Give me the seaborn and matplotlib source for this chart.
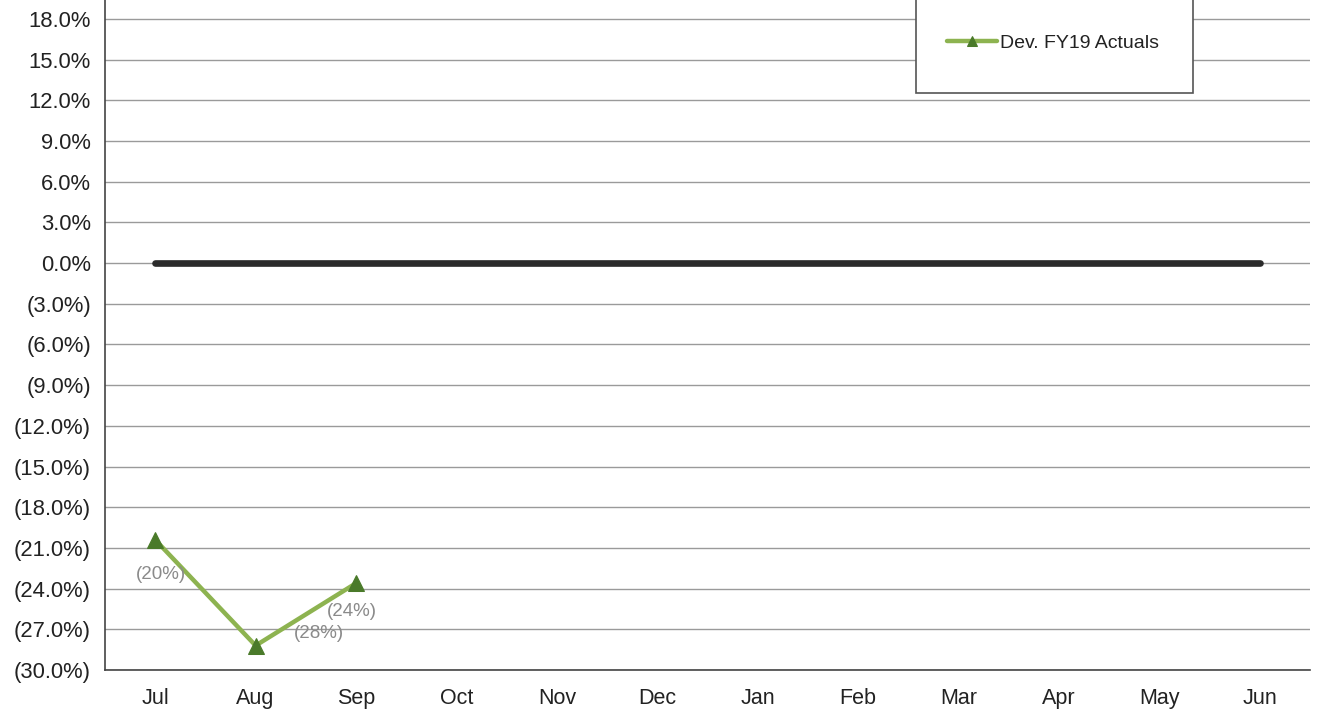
import matplotlib
matplotlib.use("Agg")
import matplotlib.pyplot as plt
import matplotlib.patches as mpatches
import seaborn as sns
import pandas as pd
import numpy as np

months = ["Jul", "Aug", "Sep", "Oct", "Nov", "Dec", "Jan", "Feb", "Mar", "Apr", "May", "Jun"]
target_values = [0.0] * 12
actual_months = ["Jul", "Aug", "Sep"]
actual_values = [-20.4, -28.2, -23.6]
actual_labels = ["(20%)", "(28%)", "(24%)"]
y_ticks = [18, 15, 12, 9, 6, 3, 0, -3, -6, -9, -12, -15, -18, -21, -24, -27, -30]

sns.set_theme(style="white")
plt.rcParams['font.family'] = ['Liberation Sans', 'DejaVu Sans']

fig = plt.figure(figsize=(13.22, 7.13), dpi=100)
ax = fig.add_axes([105/1322, 43/713, (1310-105)/1322, 1 - 43/713])

df_t = pd.DataFrame({"month": months, "value": target_values})
df_a = pd.DataFrame({"month": actual_months, "value": actual_values})

sns.lineplot(data=df_t, x="month", y="value", ax=ax, color="#2b2b2b", linewidth=4.8,
             solid_capstyle="round", zorder=3)
sns.lineplot(data=df_a, x="month", y="value", ax=ax, color="#8db350", linewidth=3.2,
             marker="^", markersize=12, markerfacecolor="#4a7a2a", markeredgecolor="#4a7a2a",
             zorder=4, label="Dev. FY19 Actuals")

# data labels
offsets = [(6, -35), (63, 12), (-4, -28)]
for i, (m, v, lab) in enumerate(zip(actual_months, actual_values, actual_labels)):
    ax.annotate(lab, (i, v), xytext=offsets[i], textcoords="offset pixels",
                ha="center", va="center", fontsize=13.5, color="#8a8a8a", zorder=6)

ax.set_xlim(-0.5, 11.5)
ax.set_ylim(-30, 19.4)
ax.set_yticks(y_ticks)
ax.set_yticklabels([f"{t:.1f}%" if t >= 0 else f"({abs(t):.1f}%)" for t in y_ticks])
ax.yaxis.grid(True, color="#9a9a9a", linewidth=1)
ax.xaxis.grid(False)
ax.set_xlabel("")
ax.set_ylabel("")

ax.set_xticks(range(12))
ax.set_xticklabels(months)
ax.set_xticks(np.arange(-0.5, 12, 1), minor=True)
ax.tick_params(axis="x", which="major", length=0, pad=13, labelsize=15.5, colors="#222222")
ax.tick_params(axis="x", which="minor", length=7, width=1, color="#555555", direction="out")
ax.tick_params(axis="y", which="major", length=6, width=1, color="#555555", direction="out",
               labelsize=15.8, labelcolor="#222222", pad=4)

for s in ["top", "right"]:
    ax.spines[s].set_visible(False)
for s in ["left", "bottom"]:
    ax.spines[s].set_color("#444444")
    ax.spines[s].set_linewidth(1.2)

# legend box (extends above the visible area) and legend entry
box = mpatches.Rectangle((916/1322, 1 - 93/713), (1193-916)/1322, 0.2, transform=fig.transFigure,
                         facecolor="white", edgecolor="#555555", linewidth=1.2, zorder=7,
                         clip_on=False)
ax.add_patch(box)
leg = ax.legend(loc="center left", bbox_to_anchor=(929/1322, 1 - 43/713), bbox_transform=fig.transFigure,
                frameon=False, fontsize=14, handlelength=2.6, handletextpad=0.15, markerscale=0.55)
leg.set_zorder(10)
for t in leg.get_texts():
    t.set_color("#222222")

fig.savefig("out.png", dpi=100)
